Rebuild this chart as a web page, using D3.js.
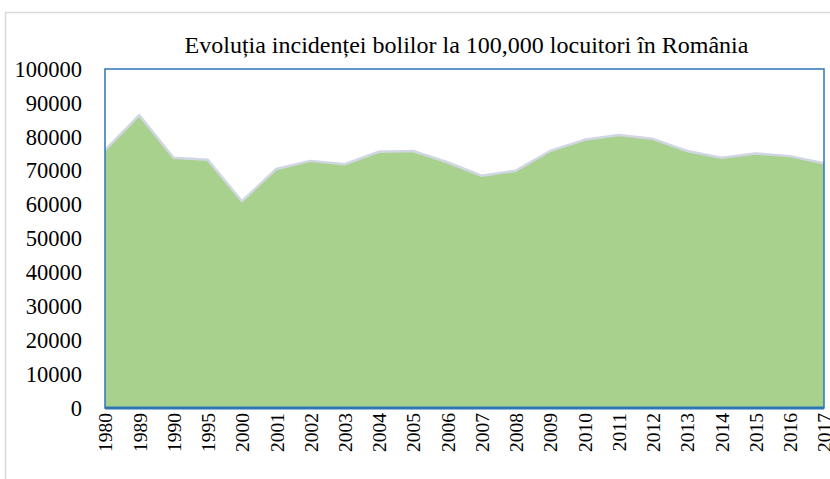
<!DOCTYPE html>
<html>
<head>
<meta charset="utf-8">
<script src="https://cdn.jsdelivr.net/npm/d3@7"></script>
<style>
  body { margin: 0; background: #fff; }
  svg { display: block; font-family: "Liberation Serif", "Times New Roman", serif; }
</style>
</head>
<body>
<svg width="830" height="479"></svg>
<script>
// chart data
let years = ['1980','1989','1990','1995','2000','2001','2002','2003','2004','2005','2006',
             '2007','2008','2009','2010','2011','2012','2013','2014','2015','2016','2017']
let incidence = [76100, 86400, 73800, 73200, 61000, 70500, 72900, 71900, 75600, 75800, 72500,
                 68500, 70000, 75800, 79100, 80500, 79400, 75800, 73800, 75100, 74300, 72200]
let yTicks = [0, 10000, 20000, 30000, 40000, 50000, 60000, 70000, 80000, 90000, 100000]
let title = 'Evoluția incidenței bolilor la 100,000 locuitori în România'

let margin = { top: 69, bottom: 71, right: 6, left: 105 }
let width = 830, height = 479
let innerWidth = width - margin.left - margin.right
let innerHeight = height - margin.top - margin.bottom

const svg = d3.select('svg')

// outer chart border
svg.append('rect')
    .attr('x', 5.5).attr('y', 12.5)
    .attr('width', 900).attr('height', 600)
    .style('fill', 'none')
    .style('stroke', '#d9d9d9')
    .style('stroke-width', 1.5)

const xScale = d3.scalePoint()
    .domain(years)
    .range([0, innerWidth])

const yScale = d3.scaleLinear()
    .domain([0, 100000])
    .range([innerHeight, 0])

const g = svg.append('g')
    .attr('transform', 'translate(' + margin.left + ',' + margin.top + ')')

const area = d3.area()
    .x((d, i) => xScale(years[i]))
    .y0(innerHeight)
    .y1(d => yScale(d))

g.append('path')
    .datum(incidence)
    .attr('d', area)
    .style('fill', '#a9d18e')

const line = d3.line()
    .x((d, i) => xScale(years[i]))
    .y(d => yScale(d))

g.append('path')
    .datum(incidence)
    .attr('d', line)
    .style('fill', 'none')
    .style('stroke', '#d0d6e2')
    .style('stroke-width', 2.5)
    .style('stroke-linejoin', 'round')

// plot area border
g.append('rect')
    .attr('x', 0).attr('y', 0)
    .attr('width', innerWidth).attr('height', innerHeight)
    .style('fill', 'none')
    .style('stroke', '#2e75b6')
    .style('stroke-width', 1.5)

// bottom axis line
g.append('line')
    .attr('x1', 0).attr('x2', innerWidth)
    .attr('y1', yScale(0)).attr('y2', yScale(0))
    .style('stroke', '#2e75b6')
    .style('stroke-width', 3)

// y axis labels
const yAxis = d3.axisLeft(yScale)
    .tickValues(yTicks)
    .tickFormat(d3.format('d'))
    .tickSize(0)
    .tickPadding(23)
const ya = g.append('g').call(yAxis)
ya.select('.domain').remove()
ya.selectAll('text')
    .style('font-family', '"Liberation Serif", "Times New Roman", serif')
    .style('font-size', '22.5px')
    .style('fill', '#000')

// x axis labels
const xAxis = d3.axisBottom(xScale).tickSize(0).tickPadding(0)
const xa = g.append('g')
    .attr('transform', `translate(0,${innerHeight})`)
    .call(xAxis)
xa.select('.domain').remove()
xa.selectAll('text')
    .attr('transform', 'rotate(-90)')
    .attr('x', -5)
    .attr('y', 0)
    .attr('dy', '0.35em')
    .style('text-anchor', 'end')
    .style('font-family', '"Liberation Serif", "Times New Roman", serif')
    .style('font-size', '19.5px')
    .style('fill', '#000')

svg.append('text')
    .attr('x', margin.left + innerWidth / 2 + 2)
    .attr('y', 53)
    .attr('text-anchor', 'middle')
    .style('font-size', '24px')
    .style('fill', '#000')
    .text(title)
</script>
</body>
</html>
